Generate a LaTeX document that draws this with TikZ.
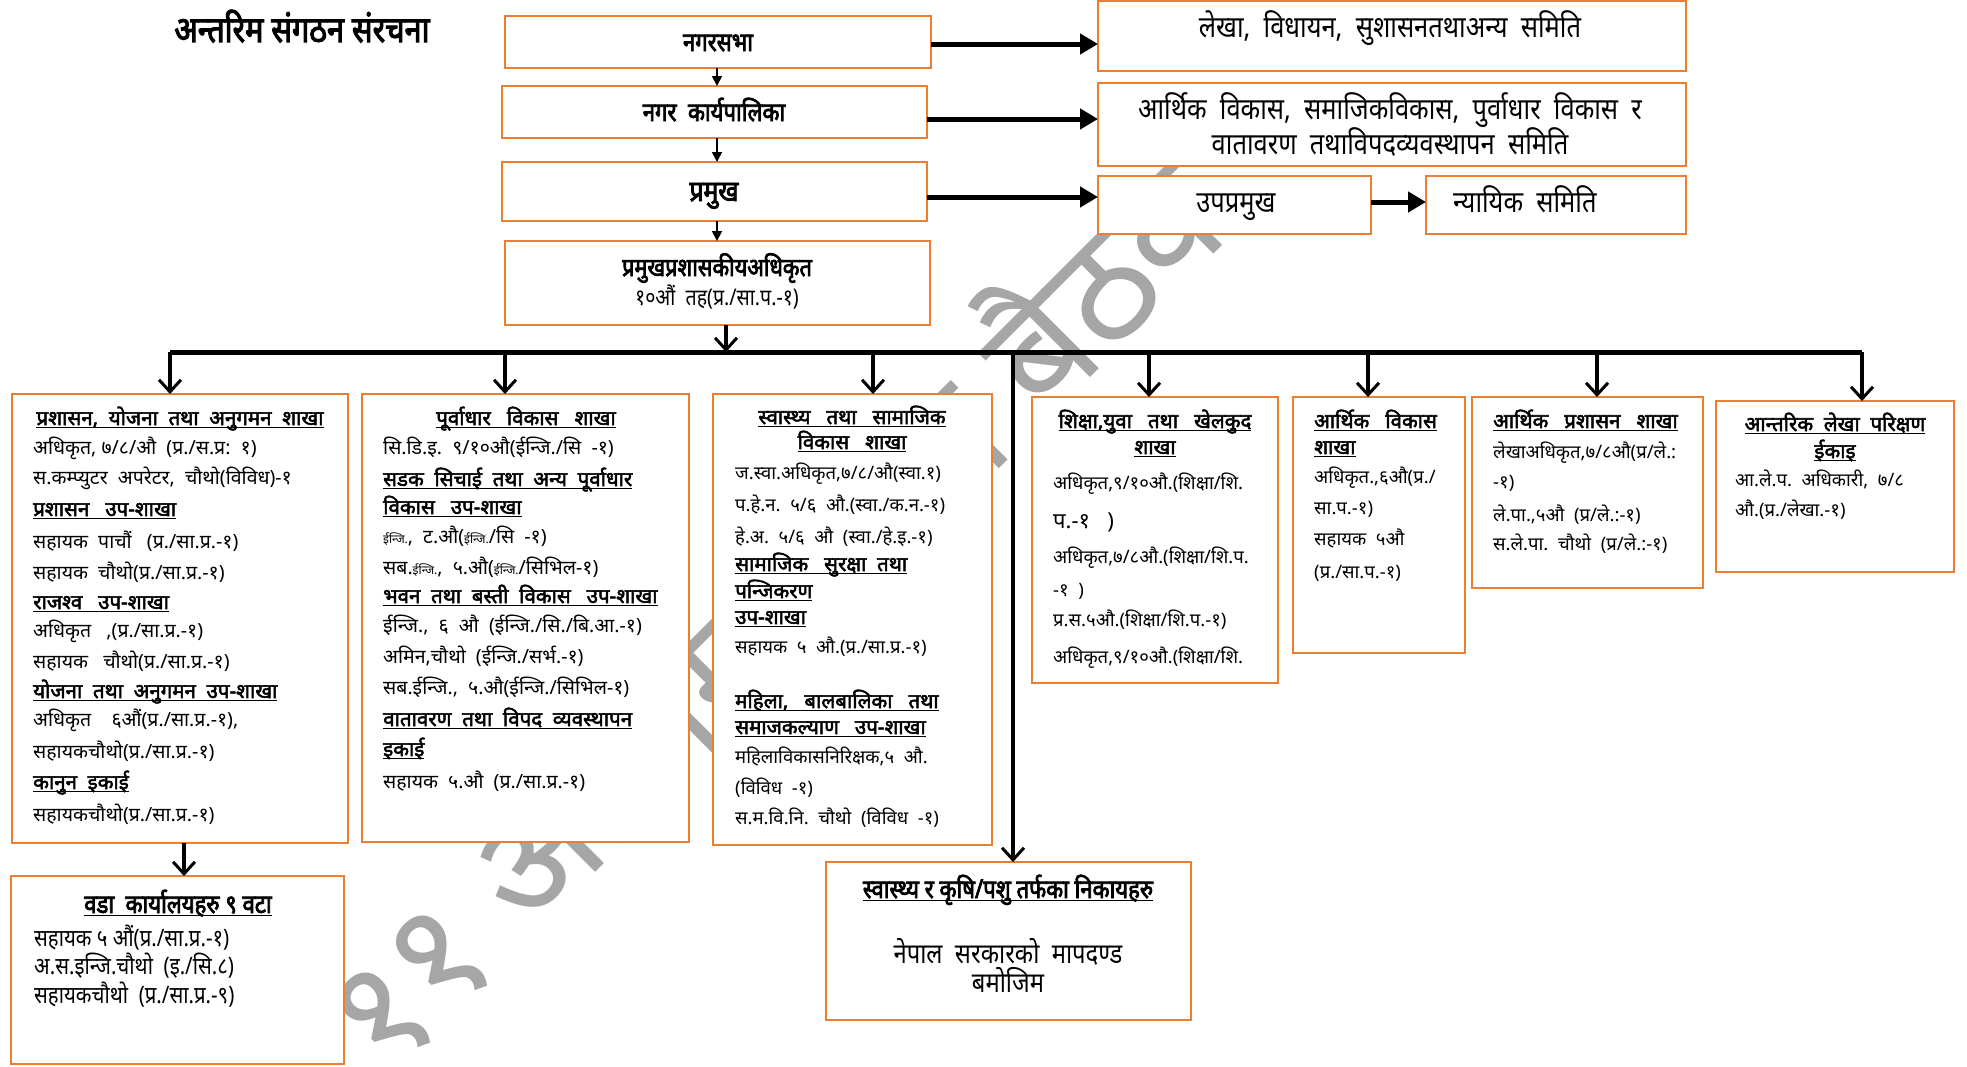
\documentclass[tikz,border=0pt]{standalone}
\usepackage{fontspec}
\setmainfont[Script=Devanagari]{Noto Sans}
\newfontfamily\bd[Script=Devanagari,FakeBold=2.5]{Noto Sans}
\newfontfamily\cond[Script=Devanagari,FakeStretch=0.85]{Noto Sans}
\newfontfamily\cb[Script=Devanagari,FakeStretch=0.85,FakeBold=3]{Noto Sans}
\usetikzlibrary{arrows.meta}
\definecolor{org}{HTML}{ED7D31}
\newcommand\uh[1]{\setbox0=\hbox{#1}\rlap{\rule[-3pt]{\wd0}{1.2pt}}\box0}
\newcommand\hd[1]{{\bd\fontsize{20.5}{24}\selectfont\uh{#1}}}
\newcommand\bx[5]{\node[box,anchor=north west,minimum width={#4pt-#2pt},minimum height={#5pt-#3pt}] (#1) at (#2,#3) {};}
\newcommand\tl[4]{\node[tx,anchor=base west] (#1) at (#2,#3) {#4};}
\newcommand\tc[4]{\node[tx,anchor=base] (#1) at (#2,#3) {#4};}
\newcommand\sm[1]{{\fontsize{12}{14}\selectfont #1}}
\begin{document}
\begin{tikzpicture}[x=1pt,y=-1pt,
  box/.style={draw=org,line width=2.6pt,fill=white,inner sep=0pt,outer sep=0pt},
  tx/.style={inner sep=0pt,font=\fontsize{18.5}{22}\selectfont},
  tx1/.style={inner sep=0pt,font=\fontsize{19.5}{22}\selectfont},
  ct/.style={inner sep=0pt,font=\cond\fontsize{30}{34}\selectfont},
  cbt/.style={inner sep=0pt,font=\cb\fontsize{26}{30}\selectfont},
  bar/.style={line width=5pt,-{Triangle[length=18pt,width=20pt]}},
  sa/.style={line width=1.8pt,-{Triangle[length=10pt,width=10pt]}},
  dn/.style={line width=3.5pt,-{Straight Barb[length=12pt,width=22pt,line width=3pt]}}]
\useasboundingbox (0,0) rectangle (1967,1066);
\fill[white] (0,0) rectangle (1967,1066);
% watermark
\node[inner sep=0pt,anchor=base west,rotate=45,text=black!35,font=\fontsize{155}{165}\selectfont] (wm) at (388,1080) {११ औं नगरसभा बैठक};
% title
\node[cbt,font=\cb\fontsize{36}{40}\selectfont,anchor=base] (title) at (302,42) {अन्तरिम संगठन संरचना};
% top boxes
\bx{sabha}{505}{16}{931}{68}
\bx{karya}{502}{86}{927}{138}
\bx{pramukh}{502}{162}{927}{221}
\bx{cao}{505}{241}{930}{325}
\node[cbt,anchor=base] (tsabha) at (718,51) {नगरसभा};
\node[cbt,anchor=base] (tkarya) at (714,121) {नगर\ \ कार्यपालिका};
\node[cbt,font=\cb\fontsize{29}{32}\selectfont,anchor=base] (tpramukh) at (714,201) {प्रमुख};
\node[cbt,font=\cb\fontsize{25.5}{28}\selectfont,anchor=base] (tcao1) at (717,276) {प्रमुखप्रशासकीयअधिकृत};
\node[ct,font=\cond\fontsize{23}{26}\selectfont,anchor=base] (tcao2) at (717,305) {१०औं\ \ तह(प्र./सा.प.-१)};
% right boxes
\bx{lekha}{1098}{1}{1686}{71}
\bx{arthik}{1098}{83}{1686}{166}
\bx{upa}{1098}{176}{1371}{234}
\bx{nyay}{1426}{176}{1686}{234}
\node[ct,anchor=base] (tlekha) at (1390,37) {लेखा,\ \ विधायन,\ \ सुशासनतथाअन्य\ \ समिति};
\node[ct,anchor=base] (tarth1) at (1390,119) {आर्थिक\ \ विकास,\ \ समाजिकविकास,\ \ पुर्वाधार\ \ विकास\ \ र};
\node[ct,anchor=base] (tarth2) at (1390,154) {वातावरण\ \ तथाविपदव्यवस्थापन\ \ समिति};
\node[ct,anchor=base] (tupa) at (1236,212) {उपप्रमुख};
\node[ct,anchor=base west] (tnyay) at (1453,212) {न्यायिक\ \ समिति};
% arrows top
\draw[sa] (sabha.south -| 717,0) -- (karya.north -| 717,0);
\draw[sa] (karya.south -| 717,0) -- (pramukh.north -| 717,0);
\draw[sa] (pramukh.south -| 717,0) -- (cao.north -| 717,0);
\draw[bar] (sabha.east |- 0,44) -- (lekha.west |- 0,44);
\draw[bar] (karya.east |- 0,119) -- (arthik.west |- 0,119);
\draw[bar] (pramukh.east |- 0,197) -- (upa.west |- 0,197);
\draw[bar] (upa.east |- 0,202) -- (nyay.west |- 0,202);
% branch
\coordinate (bl) at (170,352);
\coordinate (br) at (1862,352);
\draw[line width=5pt] (bl) -- (br);
\draw[dn] (cao.south -| 726,0) -- (726,352);
% column boxes
\bx{b1}{12}{394}{348}{843}
\bx{b2}{362}{394}{689}{842}
\bx{b3}{713}{394}{992}{845}
\bx{b4}{1032}{397}{1278}{683}
\bx{b5}{1293}{397}{1465}{653}
\bx{b6}{1472}{397}{1703}{588}
\bx{b7}{1716}{401}{1954}{572}
\bx{ward}{11}{876}{344}{1064}
\bx{health}{826}{862}{1191}{1020}
\draw[dn] (bl) -- (b1.north -| bl);
\draw[dn] (505,352) -- (b2.north -| 505,0);
\draw[dn] (873,352) -- (b3.north -| 873,0);
\draw[dn] (1149,352) -- (b4.north -| 1149,0);
\draw[dn] (1368,352) -- (b5.north -| 1368,0);
\draw[dn] (1597,352) -- (b6.north -| 1597,0);
\draw[dn] (br) -- (b7.north -| br);
\draw[dn] (1013,354) -- (health.north -| 1013,0);
\draw[dn] (b1.south -| 184,0) -- (ward.north -| 184,0);
% box1
\tc{h11}{180}{425}{\hd{प्रशासन,\ \ योजना\ \ तथा\ \ अनुगमन\ \ शाखा}}
\node[tx1,anchor=base west] (l11) at (33,454) {अधिकृत,\ ७/८/औ\ \ (प्र./स.प्र:\ \ १)};
\node[tx1,anchor=base west] (l12) at (33,484) {स.कम्प्युटर\ \ अपरेटर,\ \ चौथो(विविध)-१};
\tl{l13}{33}{516}{\hd{प्रशासन\ \ \ उप-शाखा}}
\node[tx1,anchor=base west] (l14) at (33,548) {सहायक\ \ पाचौं\ \ \ (प्र./सा.प्र.-१)};
\node[tx1,anchor=base west] (l15) at (33,579) {सहायक\ \ चौथो(प्र./सा.प्र.-१)};
\tl{l16}{33}{609}{\hd{राजश्व\ \ \ उप-शाखा}}
\node[tx1,anchor=base west] (l17) at (33,637) {अधिकृत\ \ \ ,(प्र./सा.प्र.-१)};
\node[tx1,anchor=base west] (l18) at (33,668) {सहायक\ \ \ चौथो(प्र./सा.प्र.-१)};
\tl{l19}{33}{698}{\hd{योजना\ \ तथा\ \ अनुगमन\ \ उप-शाखा}}
\node[tx1,anchor=base west] (l1a) at (33,726) {अधिकृत\ \ \ \ ६औं(प्र./सा.प्र.-१),};
\node[tx1,anchor=base west] (l1b) at (33,758) {सहायकचौथो(प्र./सा.प्र.-१)};
\tl{l1c}{33}{789}{\hd{कानुन\ \ इकाई}}
\node[tx1,anchor=base west] (l1d) at (33,821) {सहायकचौथो(प्र./सा.प्र.-१)};
% box2
\tc{h21}{526}{425}{\hd{पूर्वाधार\ \ \ विकास\ \ \ शाखा}}
\node[tx1,anchor=base west] (l21) at (383,454) {सि.डि.इ.\ \ ९/१०औ(ईन्जि./सि\ \ -१)};
\tl{l22}{383}{486}{\hd{सडक\ \ सिचाई\ \ तथा\ \ अन्य\ \ पूर्वाधार}}
\tl{l23}{383}{514}{\hd{विकास\ \ \ उप-शाखा}}
\node[tx1,anchor=base west] (l24) at (383,543) {\sm{ईन्जि.},\ \ ट.औ(\sm{ईन्जि.}/सि\ \ -१)};
\node[tx1,anchor=base west] (l25) at (383,574) {सब.\sm{ईन्जि.},\ \ ५.औ(\sm{ईन्जि.}/सिभिल-१)};
\tl{l26}{383}{603}{\hd{भवन\ \ तथा\ \ बस्ती\ \ विकास\ \ \ उप-शाखा}}
\node[tx1,anchor=base west] (l27) at (383,632) {ईन्जि.,\ \ ६\ \ औ\ \ (ईन्जि./सि./बि.आ.-१)};
\node[tx1,anchor=base west] (l28) at (383,663) {अमिन,चौथो\ \ (ईन्जि./सर्भ.-१)};
\node[tx1,anchor=base west] (l29) at (383,694) {सब.ईन्जि.,\ \ ५.औ(ईन्जि./सिभिल-१)};
\tl{l2a}{383}{726}{\hd{वातावरण\ \ तथा\ \ विपद\ \ व्यवस्थापन}}
\tl{l2b}{383}{756}{\hd{इकाई}}
\node[tx1,anchor=base west] (l2c) at (383,788) {सहायक\ \ ५.औ\ \ (प्र./सा.प्र.-१)};
% box3
\tc{h31}{852}{424}{\hd{स्वास्थ्य\ \ \ तथा\ \ \ सामाजिक}}
\tc{h32}{852}{449}{\hd{विकास\ \ \ शाखा}}
\tl{l31}{735}{479}{ज.स्वा.अधिकृत,७/८/औ(स्वा.१)}
\tl{l32}{735}{511}{प.हे.न.\ \ ५/६\ \ औ.(स्वा./क.न.-१)}
\tl{l33}{735}{543}{हे.अ.\ \ ५/६\ \ औ\ \ (स्वा./हे.इ.-१)}
\tl{l34}{735}{571}{\hd{सामाजिक\ \ \ सुरक्षा\ \ तथा}}
\tl{l35}{735}{598}{\hd{पन्जिकरण}}
\tl{l36}{735}{624}{\hd{उप-शाखा}}
\tl{l37}{735}{653}{सहायक\ \ ५\ \ औ.(प्र./सा.प्र.-१)}
\tl{l38}{735}{708}{\hd{महिला,\ \ \ बालबालिका\ \ \ तथा}}
\tl{l39}{735}{734}{\hd{समाजकल्याण\ \ \ उप-शाखा}}
\tl{l3a}{735}{763}{महिलाविकासनिरिक्षक,५\ \ औ.}
\tl{l3b}{735}{794}{(विविध\ \ -१)}
\tl{l3c}{735}{824}{स.म.वि.नि.\ \ चौथो\ \ (विविध\ \ -१)}
% box4
\tc{h41}{1155}{428}{\hd{शिक्षा,युवा\ \ \ तथा\ \ \ खेलकुद}}
\tc{h42}{1155}{454}{\hd{शाखा}}
\tl{l41}{1053}{489}{अधिकृत,९/१०औ.(शिक्षा/शि.}
\tl{l42}{1053}{528}{{\fontsize{22}{24}\selectfont प.-१\ \ \ )}}
\tl{l43}{1053}{563}{अधिकृत,७/८औ.(शिक्षा/शि.प.}
\tl{l44}{1053}{596}{-१\ \ )}
\tl{l45}{1053}{626}{प्र.स.५औ.(शिक्षा/शि.प.-१)}
\tl{l46}{1053}{663}{अधिकृत,९/१०औ.(शिक्षा/शि.}
% box5
\tl{h51}{1314}{428}{\hd{आर्थिक\ \ \ विकास}}
\tl{h52}{1314}{454}{\hd{शाखा}}
\tl{l51}{1314}{483}{अधिकृत.,६औ(प्र./}
\tl{l52}{1314}{514}{सा.प.-१)}
\tl{l53}{1314}{545}{सहायक\ \ ५औ}
\tl{l54}{1314}{578}{(प्र./सा.प.-१)}
% box6
\tl{h61}{1493}{428}{\hd{आर्थिक\ \ \ प्रशासन\ \ \ शाखा}}
\tl{l61}{1493}{458}{लेखाअधिकृत,७/८औ(प्र/ले.:}
\tl{l62}{1493}{488}{-१)}
\tl{l63}{1493}{521}{ले.पा.,५औ\ \ (प्र/ले.:-१)}
\tl{l64}{1493}{550}{स.ले.पा.\ \ चौथो\ \ (प्र/ले.:-१)}
% box7
\tc{h71}{1835}{431}{\hd{आन्तरिक\ \ लेखा\ \ परिक्षण}}
\tc{h72}{1835}{458}{\hd{ईकाइ}}
\tl{l71}{1735}{486}{आ.ले.प.\ \ अधिकारी,\ \ ७/८}
\tl{l72}{1735}{516}{औ.(प्र./लेखा.-१)}
% ward
\node[cbt,anchor=base] (hw) at (178,913) {\uh{वडा\ \ कार्यालयहरु\ ९ वटा}};
\node[ct,font=\cond\fontsize{24}{26}\selectfont,anchor=base west] (lw1) at (34,946) {सहायक ५ औं(प्र./सा.प्र.-१)};
\node[ct,font=\cond\fontsize{24}{26}\selectfont,anchor=base west] (lw2) at (34,974) {अ.स.इन्जि.चौथो\ \ (इ./सि.८)};
\node[ct,font=\cond\fontsize{24}{26}\selectfont,anchor=base west] (lw3) at (34,1003) {सहायकचौथो\ \ (प्र./सा.प्र.-९)};
% health
\node[cbt,anchor=base] (hh) at (1008,898) {\uh{स्वास्थ्य र कृषि/पशु तर्फका निकायहरु}};
\node[ct,font=\cond\fontsize{28}{30}\selectfont,anchor=base] (lh1) at (1008,963) {नेपाल\ \ सरकारको\ \ मापदण्ड};
\node[ct,font=\cond\fontsize{28}{30}\selectfont,anchor=base] (lh2) at (1008,992) {बमोजिम};
\end{tikzpicture}
\end{document}
